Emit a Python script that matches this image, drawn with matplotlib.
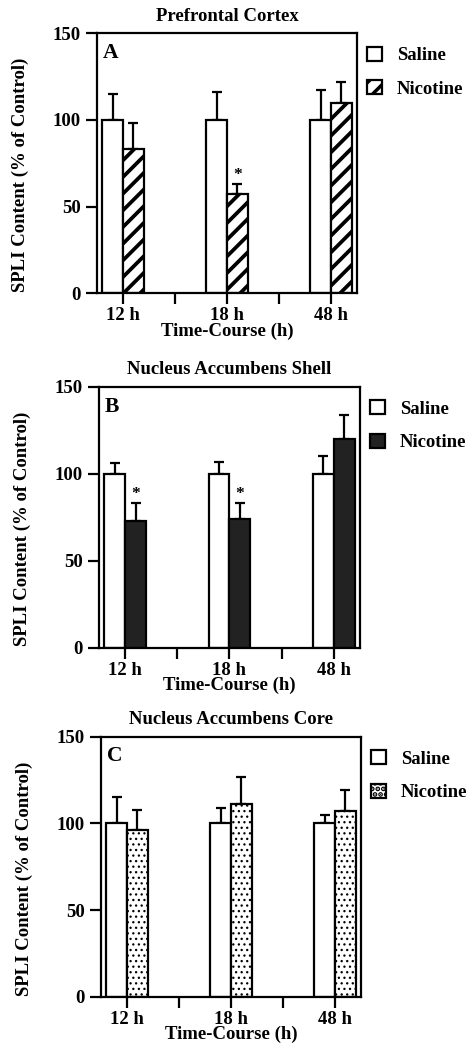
import numpy as np
import matplotlib
matplotlib.use("Agg")
import matplotlib.pyplot as plt
from matplotlib.patches import Patch

plt.rcParams['font.family'] = ['Liberation Serif', 'DejaVu Serif']
plt.rcParams['font.weight'] = 'bold'
plt.rcParams['hatch.linewidth'] = 2.5

# data
times = ['12 h', '18 h', '48 h']
panel_titles = ['Prefrontal Cortex', 'Nucleus Accumbens Shell', 'Nucleus Accumbens Core']
panel_letters = ['A', 'B', 'C']

saline_mean = [[100, 100, 100], [100, 100, 100], [100, 100, 100]]
saline_err = [[15, 16, 17], [6, 7, 10], [15, 9, 5]]
nicotine_mean = [[83, 57, 110], [73, 74, 120], [96, 111, 107]]
nicotine_err = [[15, 6, 12], [10, 9, 14], [12, 16, 12]]
stars = [[False, True, False], [True, True, False], [False, False, False]]

# nicotine bar style per panel: (fill, hatch)
nic_style = [('white', '//'), ('#222222', None), ('white', '...')]
hatch_lw = [2.7, 1.0, 0.9]

# axes boxes in figure fractions (left, bottom, width, height)
boxes = [(0.2038, 0.7207, 0.546, 0.2476),
         (0.2080, 0.3831, 0.548, 0.2486),
         (0.2122, 0.0505, 0.546, 0.2479)]

fig = plt.figure(figsize=(4.76, 10.5), dpi=100)

w = 0.2
x = np.arange(len(times))
for i in range(3):
    ax = fig.add_axes(boxes[i])
    fc, hatch = nic_style[i]
    ax.bar(x - w / 2, saline_mean[i], w, color='white', edgecolor='black',
           linewidth=1.6, zorder=2)
    nb = ax.bar(x + w / 2, nicotine_mean[i], w, color=fc, edgecolor='black',
                linewidth=1.6, hatch=hatch, zorder=2)
    for b in nb:
        if hasattr(b, 'set_hatch_linewidth'):
            b.set_hatch_linewidth(hatch_lw[i])
    ax.errorbar(x - w / 2, saline_mean[i], yerr=[[0] * 3, saline_err[i]], fmt='none',
                ecolor='black', elinewidth=1.6, capsize=3.8, capthick=1.6, zorder=1)
    ax.errorbar(x + w / 2, nicotine_mean[i], yerr=[[0] * 3, nicotine_err[i]], fmt='none',
                ecolor='black', elinewidth=1.6, capsize=3.8, capthick=1.6, zorder=1)
    for j in range(3):
        if stars[i][j]:
            ax.annotate('*', (x[j] + w / 2, nicotine_mean[i][j] + nicotine_err[i][j]),
                        xytext=(0, 1), textcoords='offset points', ha='center',
                        va='bottom', fontsize=12.5)

    ax.set_xlim(-0.25, 2.25)
    ax.set_ylim(0, 150)
    ax.set_yticks([0, 50, 100, 150])
    ax.set_xticks(x)
    ax.set_xticklabels(times)
    ax.set_xticks([0.5, 1.5], minor=True)
    ax.tick_params(axis='both', which='both', direction='out', length=8, width=1.6,
                   labelsize=13.5)
    ax.tick_params(axis='x', pad=2)
    for s in ax.spines.values():
        s.set_linewidth(1.6)

    ax.set_title(panel_titles[i], fontsize=13.5, fontweight='bold', pad=9)
    ax.set_ylabel('SPLI Content (% of Control)', fontsize=13.5, fontweight='bold')
    ax.yaxis.set_label_coords(-0.26, 0.455)
    ax.set_xlabel('Time-Course (h)', fontsize=13.5, fontweight='bold')
    ax.xaxis.set_label_coords(0.5, -0.112)
    ax.text(0.023, 0.924, panel_letters[i], transform=ax.transAxes, fontsize=15.5,
            fontweight='bold', ha='left', va='center')

    handles = [Patch(facecolor='white', edgecolor='black', linewidth=1.6),
               Patch(facecolor=fc, edgecolor='black', linewidth=1.6, hatch=hatch)]
    if hasattr(handles[1], 'set_hatch_linewidth'):
        handles[1].set_hatch_linewidth(hatch_lw[i])
    ax.legend(handles, ['Saline', 'Nicotine'], loc='upper left',
              bbox_to_anchor=(1.04, 0.948), frameon=False, fontsize=13.5,
              handlelength=0.78, handleheight=0.78, handletextpad=0.8,
              labelspacing=0.85, borderpad=0, borderaxespad=0)

fig.savefig('out.png', dpi=100)
